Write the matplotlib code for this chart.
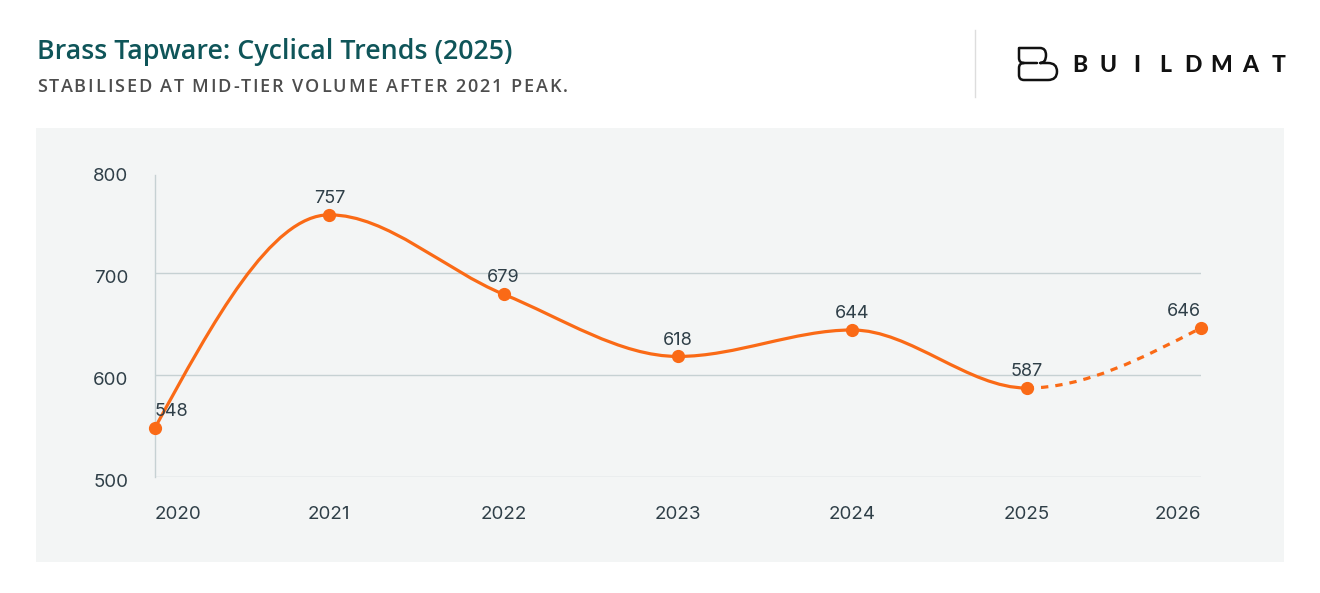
import matplotlib
matplotlib.use("Agg")
import matplotlib.pyplot as plt
import matplotlib.transforms as mtransforms
import numpy as np
from matplotlib.path import Path
from matplotlib.patches import PathPatch, Rectangle

# data
years = ["2020", "2021", "2022", "2023", "2024", "2025", "2026"]
values = [548, 757, 679, 618, 644, 587, 646]
solid_upto = 5  # last index of the solid part, the rest is dashed (forecast)

title = "Brass Tapware: Cyclical Trends (2025)"
subtitle = "STABILISED AT MID-TIER VOLUME AFTER 2021 PEAK."
brand = "BUILDMAT"

ORANGE = "#fa6a16"
TEAL = "#0f5559"
TEXT = "#2f3f48"
GRID = "#c6d1d3"
PANEL = "#f3f5f5"
NUMFONT = "Inter"

W, H = 1320, 593
fig = plt.figure(figsize=(W / 100, H / 100), dpi=100)
fig.patch.set_facecolor("white")

# background layer in pixel coordinates
bg = fig.add_axes([0, 0, 1, 1], zorder=0)
bg.set_xlim(0, W)
bg.set_ylim(H, 0)
bg.axis("off")
bg.add_patch(Rectangle((36, 128), 1248, 434, facecolor=PANEL, edgecolor="none"))
bg.plot([975, 975], [30, 97], color="#dddddd", lw=1)

bg.text(37, 59, title, fontsize=19.3, color=TEAL, family="Open Sans",
        weight="semibold", va="baseline")

renderer = fig.canvas.get_renderer()


def spaced_text(x0, y, s, spacing, **kw):
    # matplotlib has no letter-spacing, so place each char at its prefix width
    probe = bg.text(0, 0, "I", **kw)
    base = probe.get_window_extent(renderer).width
    probe.remove()
    for i, ch in enumerate(s):
        if ch == " ":
            continue
        t = bg.text(0, 0, s[:i] + "I", **kw)
        w = t.get_window_extent(renderer).width - base
        t.remove()
        bg.text(x0 + w + i * spacing, y, ch, va="baseline", ha="left", **kw)


spaced_text(37, 92, subtitle, 1.95, fontsize=13, color="#4d4d4d",
            family="Open Sans", weight="semibold")

# logo glyph
verts = [(1037, 63), (1024, 63), (1019, 63), (1019, 58), (1019, 48),
         (1040, 48), (1046, 48), (1046, 55), (1046, 63), (1040, 63),
         (1048, 63), (1057, 63), (1057, 71.5), (1057, 80), (1048, 80),
         (1024, 80), (1019, 80), (1019, 75), (1019, 68), (1019, 63), (1024, 63)]
codes = [Path.MOVETO, Path.LINETO, Path.CURVE3, Path.CURVE3, Path.LINETO,
         Path.LINETO, Path.CURVE3, Path.CURVE3, Path.CURVE3, Path.CURVE3,
         Path.LINETO, Path.CURVE3, Path.CURVE3, Path.CURVE3, Path.CURVE3,
         Path.LINETO, Path.CURVE3, Path.CURVE3, Path.LINETO, Path.CURVE3, Path.CURVE3]
bg.add_patch(PathPatch(Path(verts, codes), facecolor="none", edgecolor="#111111",
                       lw=1.8, capstyle="round", joinstyle="round"))
for i, ch in enumerate(brand):
    bg.text(1080 + i * 28.3, 72, ch, fontsize=16.5, weight="black", family="Lato",
            color="#111111", ha="center", va="baseline")

# main chart
ax = fig.add_axes([155 / W, 116.3 / H, 1046 / W, 305.7 / H], zorder=1)
ax.set_facecolor("none")
x = np.arange(len(years))
ax.set_xlim(0, len(years) - 1)
ax.set_ylim(500, 800)

for v in [500, 600, 700]:
    ax.axhline(v, color=GRID, lw=1, zorder=1)
for s in ["top", "right", "bottom"]:
    ax.spines[s].set_visible(False)
ax.spines["left"].set_color(GRID)
ax.spines["left"].set_linewidth(1)
ax.spines["left"].set_bounds(500, 796)

ax.set_yticks([500, 600, 700, 800])
ax.tick_params(axis="y", length=0, pad=19, labelsize=13.5, labelcolor=TEXT)
ax.set_xticks(x)
ax.set_xticklabels(years)
ax.tick_params(axis="x", length=0, pad=21, labelsize=13.5, labelcolor=TEXT)
for lab in ax.get_xticklabels() + ax.get_yticklabels():
    lab.set_family(NUMFONT)
# y labels sit a few pixels below their gridline in the original
shift = mtransforms.ScaledTranslation(0, -3.5 / 100, fig.dpi_scale_trans)
for lab in ax.get_yticklabels():
    lab.set_transform(lab.get_transform() + shift)
xl = ax.get_xticklabels()
xl[0].set_ha("left")
xl[-1].set_ha("right")

# monotone-x cubic curve (as d3.curveMonotoneX), control points from the data tangents
xs = x.astype(float)
ys = np.array(values, dtype=float)
n = len(xs)
sl = np.diff(ys) / np.diff(xs)
tang = np.zeros(n)
for i in range(1, n - 1):
    h0, h1 = xs[i] - xs[i - 1], xs[i + 1] - xs[i]
    s0, s1 = sl[i - 1], sl[i]
    p = (s0 * h1 + s1 * h0) / (h0 + h1)
    tang[i] = (np.sign(s0) + np.sign(s1)) * min(abs(s0), abs(s1), 0.5 * abs(p))
tang[0] = (3 * sl[0] - tang[1]) / 2
tang[-1] = (3 * sl[-1] - tang[-2]) / 2


def segment_path(i0, i1):
    vs = [(xs[i0], ys[i0])]
    cs = [Path.MOVETO]
    for i in range(i0, i1):
        d = (xs[i + 1] - xs[i]) / 3
        vs += [(xs[i] + d, ys[i] + d * tang[i]),
               (xs[i + 1] - d, ys[i + 1] - d * tang[i + 1]),
               (xs[i + 1], ys[i + 1])]
        cs += [Path.CURVE4] * 3
    return Path(vs, cs)


ax.add_patch(PathPatch(segment_path(0, solid_upto), facecolor="none", edgecolor=ORANGE,
                       lw=2.3, capstyle="round", zorder=3))
ax.add_patch(PathPatch(segment_path(solid_upto, n - 1), facecolor="none", edgecolor=ORANGE,
                       lw=2.3, linestyle=(0, (2.3, 2.2)), zorder=3))
ax.plot(xs, ys, "o", color=ORANGE, markersize=8.5, zorder=4, clip_on=False)

for i, (xi, v) in enumerate(zip(xs, values)):
    ha = "left" if i == 0 else ("right" if i == n - 1 else "center")
    ax.annotate(str(v), (xi, v), xytext=(0, 8.5), textcoords="offset points",
                ha=ha, va="baseline", fontsize=13, color=TEXT, family=NUMFONT,
                zorder=5)

fig.savefig("out.png", dpi=100)
